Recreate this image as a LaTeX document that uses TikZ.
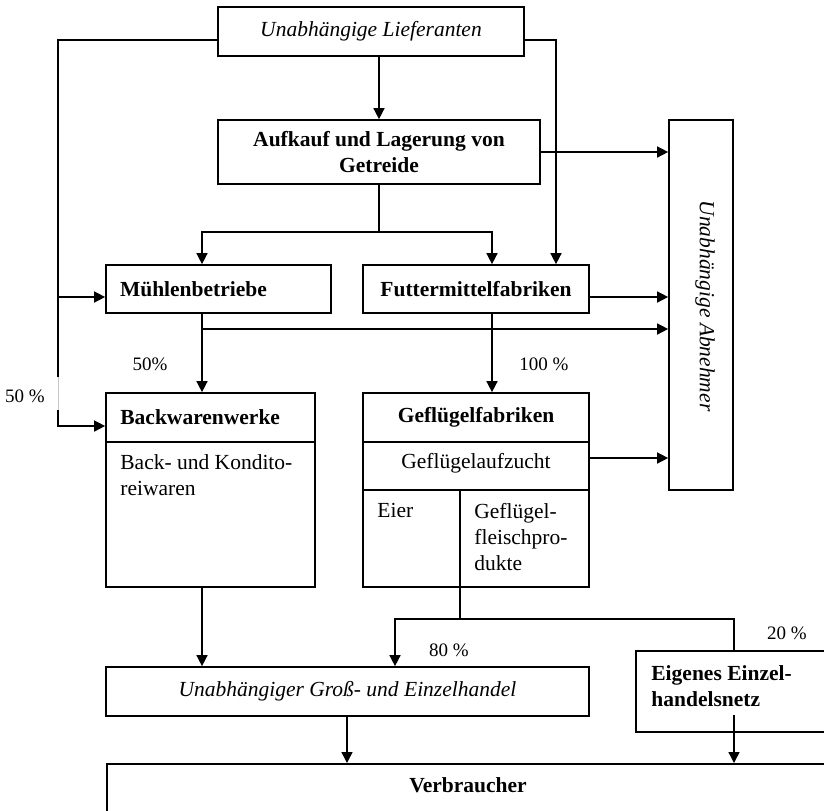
\documentclass[tikz,border=0pt]{standalone}
\usepackage{fontspec}
\setmainfont{Liberation Serif}
\usetikzlibrary{arrows.meta,calc}
\AtBeginDocument{\fontsize{10.75}{13}\selectfont}
\tikzset{
  box/.style={draw, line width=0.85pt, rectangle, inner sep=0pt},
  arr/.style={line width=0.75pt, -{Triangle[length=5.5pt,width=5.5pt]}},
  ln/.style={line width=0.75pt},
  pct/.style={font=\fontsize{9.5}{11}\selectfont, inner sep=0pt},
  txt/.style={inner sep=0pt, align=left},
}
\begin{document}
\begin{tikzpicture}[x=0.5pt,y=-0.5pt]
\useasboundingbox (0,0) rectangle (824,810);
\clip (0,0) rectangle (824,810);

% boxes
\node[box, minimum width=153pt, minimum height=24.5pt, font=\itshape] (lief) at (371,31.5) {Unabhängige Lieferanten};
\node[box, minimum width=161pt, minimum height=32pt, align=center, font=\bfseries] (auf) at (379,152) {Aufkauf und Lagerung von\\Getreide};
\node[box, minimum width=32pt, minimum height=185pt] (abn) at (701,305) {};
\node[rotate=-90, font=\itshape, inner sep=0pt] (abntxt) at (705,306) {Unabhängige Abnehmer};
\node[box, minimum width=112.5pt, minimum height=24pt, text width=98.5pt, align=left, font=\bfseries] (muehl) at (218.5,289) {Mühlenbetriebe};
\node[box, minimum width=113pt, minimum height=24pt, font=\bfseries] (futt) at (476,289) {Futtermittelfabriken};

\node[box, minimum width=104.5pt, minimum height=97pt] (back) at (210.5,490) {};
\coordinate (d1) at (0,442);
\coordinate (d2) at (0,490);
\draw[ln] (back.west |- d1) -- (back.east |- d1);
\node[txt, anchor=west, font=\bfseries] (backt) at (120,417) {Backwarenwerke};
\node[txt, anchor=north west] (backb) at (120,454) {Back- und Kondito-\\reiwaren};

\node[box, minimum width=113pt, minimum height=97pt] (gefl) at (476,490) {};
\draw[ln] (gefl.west |- d1) -- (gefl.east |- d1);
\draw[ln] (gefl.west |- d2) -- (gefl.east |- d2);
\coordinate (gv) at (460,490);
\draw[ln] (gv) -- (gv |- gefl.south);
\node[txt, font=\bfseries] (geflt) at (476,417) {Geflügelfabriken};
\node[txt] (zucht) at (476,463) {Geflügelaufzucht};
\node[txt, anchor=north west] (eier) at (377,503) {Eier};
\node[txt, anchor=north west] (fleisch) at (474,503) {Geflügel-\\fleischpro-\\dukte};

\node[box, minimum width=241.5pt, minimum height=24.5pt, font=\itshape] (handel) at (347.5,691.5) {Unabhängiger Groß- und Einzelhandel};
\node[box, minimum width=107pt, minimum height=40.5pt] (eigen) at (743,691.5) {};
\node[txt, anchor=north west, font=\bfseries] (eigent) at (651,665) {Eigenes Einzel-\\handelsnetz};
\node[box, anchor=north west, minimum width=400pt, minimum height=40pt] (verb) at (106,763) {};
\node[txt, font=\bfseries] (verbt) at (468,785) {Verbraucher};

% helper coordinates
\coordinate (lj) at (58,40);
\coordinate (rj) at (556,40);
\coordinate (mk) at (58,297);
\coordinate (bk) at (58,426);
\coordinate (aj) at (379,232);
\coordinate (mj) at (202,232);
\coordinate (fj) at (492,232);
\coordinate (mb) at (202,329);
\coordinate (zk) at (0,458);
\coordinate (gj) at (460,619);
\coordinate (hj) at (395,619);
\coordinate (ej) at (734,619);
\coordinate (es) at (734,715);
\coordinate (hk) at (347,0);

% connectors
\draw[arr] (lief.south -| auf.north) -- (auf.north);
\draw[arr] (lief.west |- lj) -- (lj) -- (bk) -- (bk -| back.west);
\draw[arr] (mk) -- (mk -| muehl.west);
\draw[white, line width=1.6pt] (58,377) -- (58,410);
\draw[gray!45, line width=0.4pt] (58,377) -- (58,410);
\draw[arr] (lief.east |- rj) -- (rj) -- (rj |- futt.north);
\draw[arr] (auf.east) -- (auf.east -| abn.west);
\draw[ln] (auf.south) -- (aj);
\draw[arr] (aj) -- (mj) -- (mj |- muehl.north);
\draw[arr] (aj) -- (fj) -- (fj |- futt.north);
\draw[arr] (futt.east |- mk) -- (mk -| abn.west);
\draw[arr] (mj |- muehl.south) -- (mj |- back.north);
\draw[arr] (mb) -- (mb -| abn.west);
\draw[arr] (fj |- futt.south) -- (fj |- gefl.north);
\draw[arr] (gefl.east |- zk) -- (zk -| abn.west);
\draw[arr] (mj |- back.south) -- (mj |- handel.north);
\draw[ln] (gj |- gefl.south) -- (gj);
\draw[arr] (ej |- eigen.north) -- (ej) -- (hj) -- (hj |- handel.north);
\draw[arr] (handel.south -| hk) -- (hk |- verb.north);
\draw[arr] (es) -- (es |- verb.north);

% percentages
\node[pct] (p50a) at (150,364) {50\%};
\node[pct] (p100) at (544,364) {100 \%};
\node[pct] (p50b) at (25,396) {50 \%};
\node[pct] (p80) at (449,650) {80 \%};
\node[pct] (p20) at (787,633) {20 \%};
\end{tikzpicture}
\end{document}
